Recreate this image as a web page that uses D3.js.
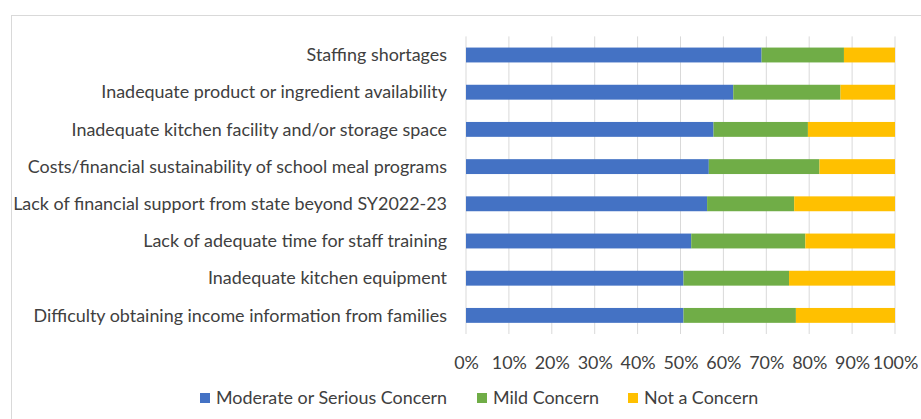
<!DOCTYPE html>
<html>
<head>
<meta charset="utf-8">
<script src="https://cdn.jsdelivr.net/npm/d3@7"></script>
<style>
  body { margin: 0; background: #fff; }
  svg { display: block; }
  text { font-family: Lato, "Liberation Sans", sans-serif; }
</style>
</head>
<body>
<div id="chart"></div>
<script>
// categories, top to bottom
const categories = [
  "Staffing shortages",
  "Inadequate product or ingredient availability",
  "Inadequate kitchen facility and/or storage space",
  "Costs/financial sustainability of school meal programs",
  "Lack of financial support from state beyond SY2022-23",
  "Lack of adequate time for staff training",
  "Inadequate kitchen equipment",
  "Difficulty obtaining income information from families"
]
const seriesNames = ["Moderate or Serious Concern", "Mild Concern", "Not a Concern"]
const moderate = [68.9, 62.3, 57.7, 56.6, 56.2, 52.5, 50.7, 50.7]
const mild = [19.2, 25.0, 22.0, 25.8, 20.3, 26.6, 24.6, 26.2]
const notConcern = [11.9, 12.7, 20.3, 17.6, 23.5, 20.9, 24.7, 23.1]
const tickValues = [0, 10, 20, 30, 40, 50, 60, 70, 80, 90, 100]
const colors = ["#4472C4", "#70AD47", "#FFC000"]

const width = 921, height = 419
const margin = {top: 36.4, left: 466, right: 26, bottom: 85}

const svg = d3.select('#chart').append('svg')
    .attr('width', width)
    .attr('height', height)

// outer chart border
svg.append('rect')
    .attr('x', 11.5).attr('y', 15.5)
    .attr('width', width + 10).attr('height', height + 10)
    .attr('fill', 'none')
    .attr('stroke', '#D9D9D9')

const x = d3.scaleLinear().domain([0, 100]).range([margin.left, 895])
const y = d3.scaleBand().domain(categories).range([margin.top, 334]).paddingInner(0.6).paddingOuter(0.3)

// gridlines
svg.append('g')
    .selectAll('line')
    .data(tickValues)
    .enter()
    .append('line')
    .attr('x1', d => x(d)).attr('x2', d => x(d))
    .attr('y1', margin.top).attr('y2', 334)
    .attr('stroke', '#D9D9D9')
    .attr('stroke-width', 1)

// stack the data
const rows = categories.map((c, i) => ({cat: c, s0: moderate[i], s1: mild[i], s2: notConcern[i]}))
const stacked = d3.stack().keys(['s0', 's1', 's2'])(rows)

svg.append('g')
    .selectAll('g')
    .data(stacked)
    .enter()
    .append('g')
    .attr('fill', (d, i) => colors[i])
    .selectAll('rect')
    .data(d => d)
    .enter()
    .append('rect')
    .attr('x', d => x(d[0]))
    .attr('width', d => x(d[1]) - x(d[0]))
    .attr('y', d => y(d.data.cat))
    .attr('height', y.bandwidth())

// category labels
const labels = svg.append('g')
    .selectAll('text')
    .data(categories)
    .enter()
    .append('text')
    .attr('x', 447)
    .attr('y', d => y(d) + y.bandwidth() / 2)
    .attr('dy', '0.35em')
    .attr('text-anchor', 'end')
    .attr('fill', '#404040')
    .style('font-size', '16px')
    .text(d => d)

// fit font so the bottom label is as wide as in the picture (~414px)
const lastWidth = labels.filter((d, i) => i === categories.length - 1).node().getComputedTextLength()
const fs = 16 * 414 / lastWidth
labels.style('font-size', fs + 'px')

// x axis
const xAxis = d3.axisBottom(x).tickValues(tickValues).tickFormat(d => d + '%').tickSize(0)
const gx = svg.append('g')
    .attr('transform', `translate(0 ${353})`)
    .call(xAxis)
gx.select('.domain').remove()
gx.selectAll('text')
    .attr('fill', '#404040')
    .style('font-size', fs + 'px')
    .style('font-family', 'Lato, "Liberation Sans", sans-serif')

// legend
const legendX = [200, 477, 628]
const legend = svg.append('g')
    .selectAll('g')
    .data(seriesNames)
    .enter()
    .append('g')
    .attr('transform', (d, i) => `translate(${legendX[i]} 393)`)
legend.append('rect')
    .attr('width', 10).attr('height', 10)
    .attr('fill', (d, i) => colors[i])
legend.append('text')
    .attr('x', 16).attr('y', 5)
    .attr('dy', '0.35em')
    .attr('fill', '#404040')
    .style('font-size', fs + 'px')
    .text(d => d)
</script>
</body>
</html>
